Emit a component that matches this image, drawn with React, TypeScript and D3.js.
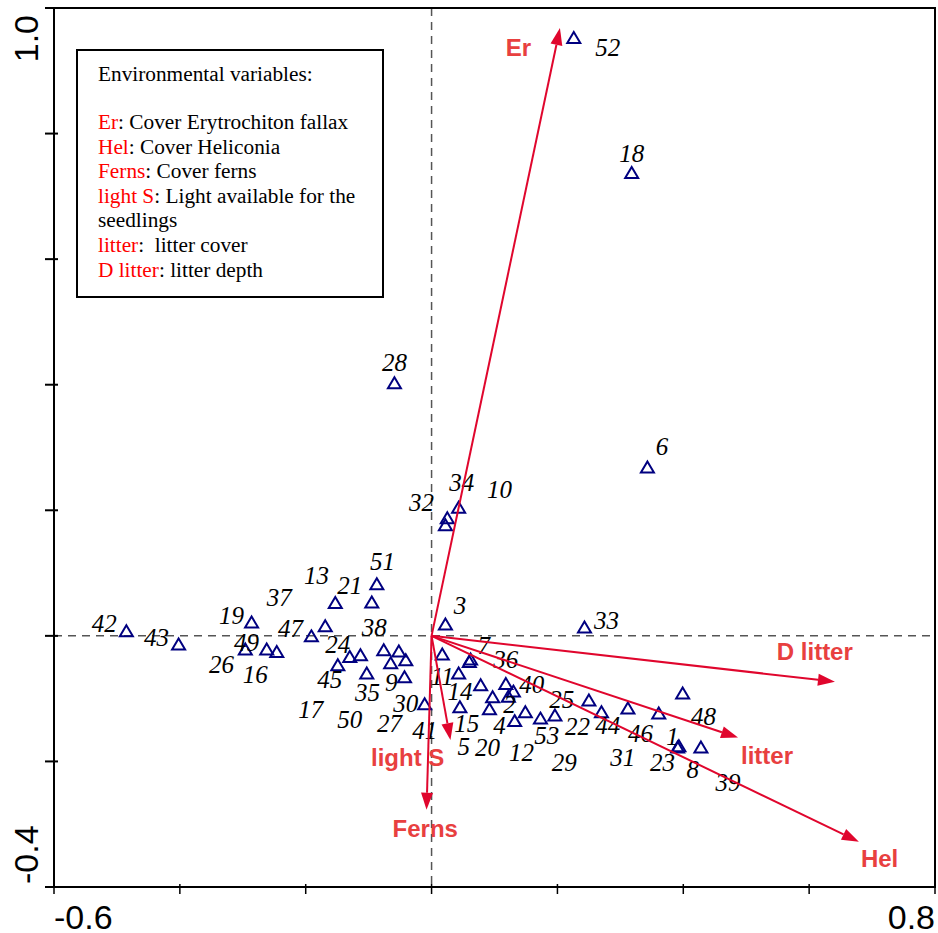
import React from "react";
import * as d3 from "d3";

const W = 938;
const H = 933;

const xTicks = [-0.6, -0.4, -0.2, 0, 0.2, 0.4, 0.6, 0.8];
const yTicks = [-0.4, -0.2, 0, 0.2, 0.4, 0.6, 0.8, 1.0];

// sample scores: [site, axis 1, axis 2]
const sites: [number, number, number][] = [
  [1, 0.391, -0.177], [2, 0.122, -0.096], [3, 0.022, 0.019], [4, 0.132, -0.135],
  [5, 0.045, -0.113], [6, 0.343, 0.269], [7, 0.062, -0.037], [8, 0.428, -0.177],
  [9, -0.065, -0.043], [10, 0.025, 0.188], [11, 0.017, -0.029], [12, 0.149, -0.121],
  [13, -0.153, 0.053], [14, 0.043, -0.059], [15, 0.092, -0.116], [16, -0.246, -0.025],
  [17, -0.149, -0.046], [18, 0.318, 0.738], [19, -0.286, 0.022], [20, 0.097, -0.097],
  [21, -0.095, 0.054], [22, 0.270, -0.121], [23, 0.393, -0.175], [24, -0.130, -0.033],
  [25, 0.250, -0.102], [26, -0.296, -0.021], [27, -0.041, -0.038], [28, -0.059, 0.403],
  [29, 0.196, -0.126], [30, -0.011, -0.108], [31, 0.312, -0.115], [32, 0.022, 0.177],
  [33, 0.243, 0.014], [34, 0.043, 0.205], [35, -0.103, -0.059], [36, 0.060, -0.041],
  [37, -0.169, 0.016], [38, -0.076, -0.022], [39, 0.361, -0.123], [40, 0.130, -0.088],
  [41, -0.043, -0.065], [42, -0.485, 0.008], [43, -0.402, -0.013], [44, 0.078, -0.078],
  [45, -0.113, -0.030], [46, 0.118, -0.076], [47, -0.191, 0.0], [48, 0.399, -0.091],
  [49, -0.262, -0.021], [50, -0.052, -0.024], [51, -0.087, 0.083], [52, 0.226, 0.953],
  [53, 0.173, -0.131],
];

// where each site number is printed: [site, axis 1, axis 2]
const siteLabels: [number, number, number][] = [
  [1, 0.383, -0.161], [2, 0.124, -0.110], [3, 0.045, 0.049], [4, 0.108, -0.142],
  [5, 0.051, -0.177], [6, 0.366, 0.301], [7, 0.083, -0.016], [8, 0.415, -0.213],
  [9, -0.064, -0.075], [10, 0.108, 0.233], [11, 0.017, -0.065], [12, 0.143, -0.186],
  [13, -0.183, 0.096], [14, 0.045, -0.088], [15, 0.056, -0.139], [16, -0.280, -0.062],
  [17, -0.192, -0.118], [18, 0.318, 0.769], [19, -0.318, 0.033], [20, 0.089, -0.178],
  [21, -0.130, 0.081], [22, 0.232, -0.145], [23, 0.367, -0.202], [24, -0.149, -0.014],
  [25, 0.207, -0.102], [26, -0.334, -0.046], [27, -0.067, -0.139], [28, -0.059, 0.436],
  [29, 0.211, -0.201], [30, -0.041, -0.107], [31, 0.304, -0.194], [32, -0.016, 0.213],
  [33, 0.278, 0.025], [34, 0.048, 0.245], [35, -0.102, -0.091], [36, 0.118, -0.038],
  [37, -0.242, 0.061], [38, -0.091, 0.013], [39, 0.471, -0.233], [40, 0.159, -0.078],
  [41, -0.011, -0.150], [42, -0.520, 0.019], [43, -0.437, -0.002], [44, 0.280, -0.142],
  [45, -0.162, -0.070], [46, 0.332, -0.155], [47, -0.224, 0.011], [48, 0.432, -0.129],
  [49, -0.294, -0.010], [50, -0.130, -0.134], [51, -0.078, 0.119], [52, 0.280, 0.937],
  [53, 0.183, -0.158],
];

// environmental variable arrows: name, tip, label position
const envNames = ["Er", "D litter", "litter", "Hel", "Ferns", "light S"];
const envTips: [number, number][] = [
  [0.204, 0.968], [0.641, -0.073], [0.487, -0.162], [0.679, -0.328], [-0.008, -0.277], [0.030, -0.166],
];
const envLabelPos: [number, number][] = [
  [0.138, 0.938], [0.609, -0.025], [0.533, -0.190], [0.712, -0.354], [-0.010, -0.306], [-0.038, -0.194],
];

const legendTitle = "Environmental variables:";
const legendRows: [string, string][] = [
  ["Er", ": Cover Erytrochiton fallax"],
  ["Hel", ": Cover Heliconia"],
  ["Ferns", ": Cover ferns"],
  ["light S", ": Light available for the"],
  ["", "seedlings"],
  ["litter", ":\u00a0 litter cover"],
  ["D litter", ": litter depth"],
];

const x = d3.scaleLinear().domain([-0.6, 0.8]).range([54, 935]);
const y = d3.scaleLinear().domain([-0.4, 1.0]).range([887, 8]);

const arrowColor = "#e0062d";
const arrowText = "#e8403f";
const navy = "#000080";

const triangle = (cx: number, cy: number) => {
  const w = 6.5, h = 11;
  return `M${cx},${cy - h / 2}L${cx + w},${cy + h / 2}L${cx - w},${cy + h / 2}Z`;
};

const Arrow = ({ tip }: { tip: [number, number] }) => {
  const x0 = x(0), y0 = y(0);
  const x1 = x(tip[0]), y1 = y(tip[1]);
  const a = Math.atan2(y1 - y0, x1 - x0);
  const len = 17, hw = 6;
  const bx = x1 - len * Math.cos(a), by = y1 - len * Math.sin(a);
  const px = -Math.sin(a) * hw, py = Math.cos(a) * hw;
  return (
    <g>
      <line x1={x0} y1={y0} x2={bx} y2={by} stroke={arrowColor} strokeWidth={2} />
      <path d={`M${x1},${y1}L${bx + px},${by + py}L${bx - px},${by - py}Z`} fill={arrowColor} />
    </g>
  );
};

export default function App() {
  return (
    <svg width={W} height={H} style={{ position: "absolute", left: 0, top: 0, background: "#fff" }}>
      <rect width={W} height={H} fill="#fff" />

      {/* zero lines */}
      <line x1={x(-0.6)} x2={x(0.8)} y1={y(0)} y2={y(0)} stroke="#555" strokeWidth={1.5} strokeDasharray="8,6" />
      <line x1={x(0)} x2={x(0)} y1={y(1.0)} y2={y(-0.4)} stroke="#555" strokeWidth={1.5} strokeDasharray="8,6" />

      {/* frame */}
      <rect x={x(-0.6)} y={y(1.0)} width={x(0.8) - x(-0.6)} height={y(-0.4) - y(1.0)} fill="none" stroke="#000" strokeWidth={2} />

      {yTicks.map(t => (
        <line key={"y" + t} x1={x(-0.6) - 9} x2={x(-0.6) + 4} y1={y(t)} y2={y(t)} stroke="#000" strokeWidth={2} />
      ))}
      {xTicks.map(t => (
        <line key={"x" + t} x1={x(t)} x2={x(t)} y1={y(-0.4) - 3} y2={y(-0.4) + 7} stroke="#000" strokeWidth={1.5} />
      ))}

      <g fontFamily="Liberation Sans, Arial, sans-serif" fontSize={34} fill="#000">
        <text transform={`translate(38,${y(1.0) + 7}) rotate(-90)`} textAnchor="end">1.0</text>
        <text transform={`translate(38,${y(-0.4) - 3}) rotate(-90)`} textAnchor="start">-0.4</text>
        <text x={x(-0.6)} y={929} textAnchor="start">-0.6</text>
        <text x={x(0.8)} y={929} textAnchor="end">0.8</text>
      </g>

      {/* legend */}
      <rect x={77} y={50} width={306} height={247} fill="#fff" stroke="#000" strokeWidth={2} />
      <g fontFamily="Liberation Serif, Times New Roman, serif" fontSize={21.3}>
        <text x={98} y={81} fill="#000">{legendTitle}</text>
        {legendRows.map((r, i) => (
          <text key={i} x={98} y={129 + i * 24.6}>
            <tspan fill="#ff0000">{r[0]}</tspan>
            <tspan fill="#000">{r[1]}</tspan>
          </text>
        ))}
      </g>

      {/* sites */}
      {sites.map(s => (
        <path key={"s" + s[0]} d={triangle(x(s[1]), y(s[2]))} fill="none" stroke={navy} strokeWidth={2} />
      ))}
      <g fontFamily="Liberation Serif, Times New Roman, serif" fontStyle="italic" fontSize={25} fill="#000">
        {siteLabels.map(l => (
          <text key={"l" + l[0]} x={x(l[1])} y={y(l[2])} dy="0.34em" textAnchor="middle">{l[0]}</text>
        ))}
      </g>

      {/* environmental arrows */}
      {envTips.map((t, i) => <Arrow key={"a" + i} tip={t} />)}
      <g fontFamily="Liberation Sans, Arial, sans-serif" fontWeight="bold" fontSize={24} fill={arrowText}>
        {envNames.map((n, i) => (
          <text key={"e" + n} x={x(envLabelPos[i][0])} y={y(envLabelPos[i][1])} dy="0.36em" textAnchor="middle">{n}</text>
        ))}
      </g>
    </svg>
  );
}
